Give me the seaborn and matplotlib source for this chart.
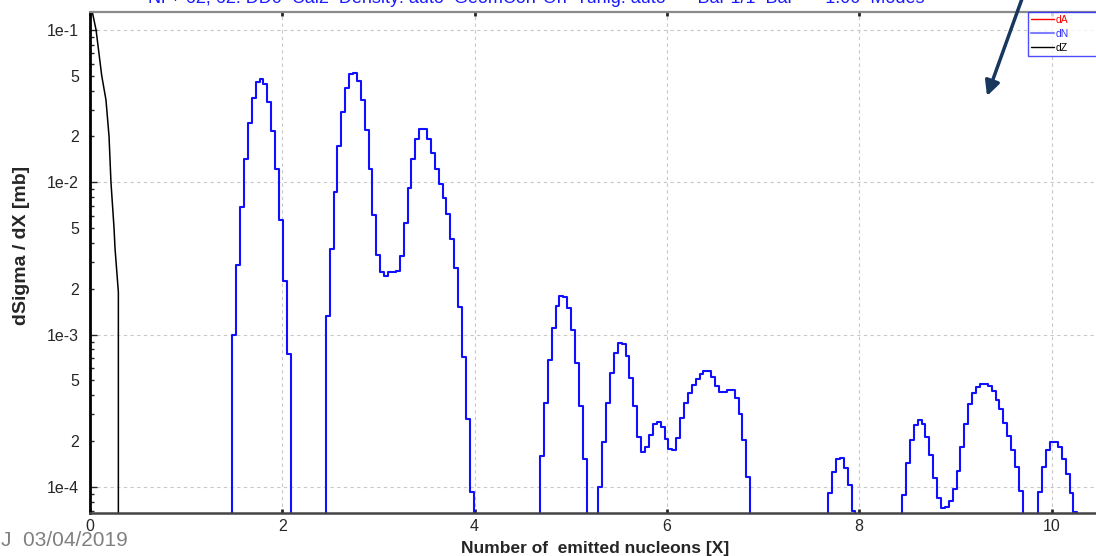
import numpy as np
import pandas as pd
import matplotlib
matplotlib.use("Agg")
import matplotlib.pyplot as plt
import seaborn as sns
from matplotlib.lines import Line2D
from matplotlib.ticker import LogLocator, FuncFormatter, MultipleLocator

# dN histogram (blue): fixed bin width, each group of filled bins starts at group_start
bin_width = 0.0405
group_start = [1.480, 2.452, 4.680, 5.287, 7.677, 8.446, 9.864]

dN_g1 = [1.00e-3, 2.86e-3, 6.86e-3, 1.42e-2, 2.44e-2, 3.58e-2, 4.53e-2, 4.79e-2,
         4.38e-2, 3.34e-2, 2.17e-2, 1.22e-2, 5.65e-3, 2.26e-3, 7.5e-4]
dN_g2 = [1.33e-3, 3.66e-3, 8.67e-3, 1.73e-2, 2.91e-2, 4.18e-2, 5.12e-2, 5.25e-2,
         4.60e-2, 3.44e-2, 2.19e-2, 1.22e-2, 6.07e-3, 3.33e-3, 2.59e-3, 2.43e-3,
         2.56e-3, 2.56e-3, 2.60e-3, 3.28e-3, 5.38e-3, 9.22e-3, 1.43e-2, 1.92e-2,
         2.23e-2, 2.23e-2, 1.93e-2, 1.56e-2, 1.23e-2, 9.71e-3, 7.85e-3, 6.22e-3,
         4.25e-3, 2.75e-3, 1.51e-3, 7.10e-4, 2.78e-4, 9.31e-5]
dN_g3 = [1.60e-4, 3.57e-4, 6.81e-4, 1.10e-3, 1.54e-3, 1.78e-3, 1.76e-3, 1.49e-3,
         1.07e-3, 6.47e-4, 3.38e-4, 1.53e-4]
dN_g4 = [9.97e-5, 1.96e-4, 3.57e-4, 5.62e-4, 7.61e-4, 8.81e-4, 8.71e-4, 7.27e-4,
         5.21e-4, 3.38e-4, 2.14e-4, 1.70e-4, 1.84e-4, 2.18e-4, 2.58e-4, 2.68e-4,
         2.46e-4, 2.06e-4, 1.77e-4, 1.75e-4, 2.11e-4, 2.82e-4, 3.57e-4, 4.11e-4,
         4.67e-4, 5.11e-4, 5.53e-4, 5.79e-4, 5.74e-4, 5.27e-4, 4.60e-4, 4.18e-4,
         4.18e-4, 4.31e-4, 4.31e-4, 3.82e-4, 3.03e-4, 2.04e-4, 1.16e-4]
dN_g5 = [9.12e-5, 1.26e-4, 1.52e-4, 1.54e-4, 1.34e-4, 1.03e-4, 6.94e-5]
dN_g6 = [8.85e-5, 1.44e-4, 2.03e-4, 2.55e-4, 2.75e-4, 2.58e-4, 2.13e-4, 1.61e-4,
         1.15e-4, 8.49e-5, 7.23e-5, 7.41e-5, 8.07e-5, 9.68e-5, 1.28e-4, 1.83e-4,
         2.58e-4, 3.48e-4, 4.11e-4, 4.55e-4, 4.74e-4, 4.74e-4, 4.57e-4, 4.26e-4,
         3.74e-4, 3.23e-4, 2.62e-4, 2.16e-4, 1.74e-4, 1.36e-4, 9.44e-5]
dN_g7 = [9.21e-5, 1.35e-4, 1.74e-4, 1.96e-4, 1.98e-4, 1.84e-4, 1.53e-4, 1.22e-4,
         9.12e-5, 6.88e-5]

# dZ curve (black)
dZ_x = [0.0, 0.024, 0.063, 0.122, 0.166, 0.198, 0.218, 0.250, 0.260, 0.295, 0.295]
dZ_y = [0.15, 0.131, 0.10, 0.05, 0.0347, 0.020, 0.010, 0.005, 0.0037, 0.0019, 1e-7]

title_txt = ("Ni + 62, 62: DD0  Cal2  Density: auto  GeomCorr On  Tunig: auto  "
             "--  Bar 1/1  Bar  --  1.00  Modes")

# build step outlines for every group
floor = 1e-7
rows = []
groups = [dN_g1, dN_g2, dN_g3, dN_g4, dN_g5, dN_g6, dN_g7]
for gi, (start, vals) in enumerate(zip(group_start, groups)):
    edges = start + bin_width * np.arange(len(vals) + 1)
    xs = np.repeat(edges, 2)
    ys = np.concatenate([[floor], np.repeat(vals, 2), [floor]])
    for k, (a, b) in enumerate(zip(xs, ys)):
        rows.append({"x": a, "y": b, "group": gi, "order": k})
df_dN = pd.DataFrame(rows)
df_dZ = pd.DataFrame({"x": dZ_x, "y": dZ_y})

sns.set_style("white")
plt.rcParams['font.family'] = ['Liberation Sans', 'DejaVu Sans']

fig = plt.figure(figsize=(10.96, 5.56), dpi=100)
ax = fig.add_axes([90 / 1096, 43 / 556, 1006 / 1096, 501 / 556])

sns.lineplot(data=df_dN, x="x", y="y", units="group", estimator=None, sort=False,
             color="#1010ff", linewidth=1.5, ax=ax, legend=False)
sns.lineplot(data=df_dZ, x="x", y="y", estimator=None, sort=False,
             color="black", linewidth=1.1, ax=ax, legend=False)

ax.set_yscale("log")
ax.set_xlim(0, 1006 / 96.15)
ax.set_ylim(6.75e-5, 0.131)

ax.xaxis.set_major_locator(MultipleLocator(2))
ax.yaxis.set_major_locator(LogLocator(base=10, numticks=10))
ax.yaxis.set_minor_locator(LogLocator(base=10, subs=range(2, 10), numticks=20))


def major_fmt(v, pos):
    return f"1e{int(round(np.log10(v)))}"


def minor_fmt(v, pos):
    m = v / 10 ** np.floor(np.log10(v) + 1e-9)
    r = int(round(m))
    return str(r) if r in (2, 5) else ""


ax.yaxis.set_major_formatter(FuncFormatter(major_fmt))
ax.yaxis.set_minor_formatter(FuncFormatter(minor_fmt))

ax.tick_params(axis="y", which="major", direction="in", length=5, width=1,
               labelsize=11.5, pad=8, left=True)
ax.tick_params(axis="y", which="minor", direction="in", length=3, width=1,
               labelsize=11.5, pad=8, left=True)
ax.tick_params(axis="x", which="major", direction="in", length=3, width=2,
               labelsize=11.5, pad=4, bottom=True, top=True)

ax.grid(True, which="major", color="#c8c8c8", linestyle=(0, (3, 3)), linewidth=0.8)
ax.set_xlabel("")
ax.set_ylabel("")

ax.spines["left"].set_color("black")
ax.spines["left"].set_linewidth(2.0)
ax.spines["bottom"].set_color("#444444")
ax.spines["bottom"].set_linewidth(1.8)
ax.spines["top"].set_color("#8a8a8a")
ax.spines["top"].set_linewidth(1.6)
ax.spines["right"].set_visible(False)

fig.text(595 / 1096, 1 - 548 / 556, "Number of  emitted nucleons [X]",
         ha="center", va="center", fontsize=12.5, fontweight="bold")
fig.text(22 / 1096, 1 - 245 / 556, "dSigma / dX [mb]", rotation=90,
         ha="center", va="center", fontsize=14, fontweight="bold")
fig.text(1 / 1096, 1 - 540 / 556, "J  03/04/2019", ha="left", va="center",
         fontsize=15, color="#808080")
fig.text(148 / 1096, 1 - 3 / 556, title_txt, ha="left", va="baseline",
         fontsize=13, color="#1a1aff")

handles = [Line2D([], [], color="red", linewidth=1),
           Line2D([], [], color="#8080ff", linewidth=1.5),
           Line2D([], [], color="black", linewidth=1)]
leg = fig.legend(handles, ["dA", "dN", "dZ"], loc="upper left",
                 bbox_to_anchor=(1028 / 1096, 1 - 57 / 556, 80 / 1096, 45 / 556),
                 mode="expand", fontsize=7.5,
                 frameon=True, fancybox=False, edgecolor="#2020ff",
                 handlelength=2.2, handletextpad=0.2, borderpad=0.3,
                 labelspacing=0.38, borderaxespad=0,
                 labelcolor=["red", "#3030ff", "black"])
leg.get_frame().set_linewidth(1.0)

ax.annotate("", xy=(987, 556 - 96), xytext=(1023, 560), xycoords="figure pixels",
            textcoords="figure pixels",
            arrowprops=dict(arrowstyle="-|>", color="#17375e", lw=2.5,
                            mutation_scale=22, shrinkA=0, shrinkB=0))

fig.savefig("out.png", dpi=100)
